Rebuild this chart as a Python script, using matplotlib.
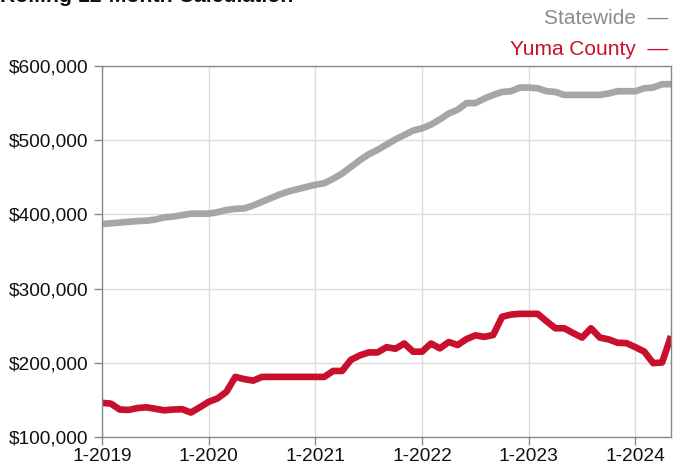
import matplotlib
matplotlib.use("Agg")
import matplotlib.pyplot as plt
from matplotlib.ticker import FuncFormatter

plt.rcParams['font.family'] = ['Liberation Sans', 'DejaVu Sans']

# Monthly data, 1-2019 .. 5-2024 (values in $)
statewide = [387, 388, 389, 390, 391, 391.5, 393, 396, 397, 399, 401, 401,
             401, 403, 406, 407.5, 408, 412, 417, 422, 427, 431, 434, 437,
             440, 442, 448, 455, 464, 473, 481, 487, 494, 501, 507, 513,
             516, 521, 528, 536, 541, 550, 550, 556, 561, 565, 566, 571,
             571, 570, 566, 565, 561, 561, 561, 561, 561, 563, 566, 566,
             566, 570, 571, 575.5, 575.5]
yuma = [146, 145, 137, 136.5, 139, 140, 138, 136, 137, 137.5, 133, 140,
        147.5, 152, 161, 181, 178, 176, 181, 181, 181, 181, 181, 181,
        181, 181, 189, 189, 204, 210, 214, 214, 221, 219, 226, 215,
        215, 226, 219.5, 228, 224, 232, 237, 235, 237.5, 262, 265, 266,
        266, 266, 256, 246.5, 246.5, 240, 234, 246.5, 234, 231.5, 227, 226.5,
        221, 215, 199.5, 200.5, 236]
statewide = [v * 1000 for v in statewide]
yuma = [v * 1000 for v in yuma]

x_tick_labels = ['1-2019', '1-2020', '1-2021', '1-2022', '1-2023', '1-2024']
y_ticks = [100000, 200000, 300000, 400000, 500000, 600000]

W, H = 673, 468
fig = plt.figure(figsize=(W / 100, H / 100), dpi=100)
left, right, top, bottom = 102, 671, 66, 437
ax = fig.add_axes([left / W, 1 - bottom / H, (right - left) / W, (bottom - top) / H])

months = list(range(len(yuma)))
gray = '#A6A6A6'
red = '#C8102E'
ax.plot(months, statewide, color=gray, lw=4.8, solid_capstyle='butt', solid_joinstyle='round')
ax.plot(months, yuma, color=red, lw=4.8, solid_capstyle='butt', solid_joinstyle='round')

ax.set_xlim(0, len(yuma) - 1)
ax.set_ylim(100000, 600000)
ax.set_xticks([12 * i for i in range(len(x_tick_labels))])
ax.set_xticklabels(x_tick_labels)
ax.set_yticks(y_ticks)
ax.yaxis.set_major_formatter(FuncFormatter(lambda v, p: '${:,.0f}'.format(v)))

ax.grid(True, color='#DDDDDD', lw=1)
ax.set_axisbelow(True)
for s in ax.spines.values():
    s.set_color('#888888')
    s.set_linewidth(1)
ax.tick_params(axis='both', colors='#888888', labelcolor='#111111', labelsize=13.8,
               length=6, width=1, direction='out')
ax.tick_params(axis='x', pad=2)
ax.tick_params(axis='y', pad=4)

fig.text(0 / W, 1 - 2 / H, 'Rolling 12-Month Calculation', fontsize=15.3,
         fontweight='bold', color='#111111', ha='left', va='baseline')
fig.text(668 / W, 1 - 24 / H, 'Statewide  —', fontsize=15, color='#8C8C8C',
         ha='right', va='baseline')
fig.text(668 / W, 1 - 55 / H, 'Yuma County  —', fontsize=15, color=red,
         ha='right', va='baseline')

fig.savefig('out.png', dpi=100)
